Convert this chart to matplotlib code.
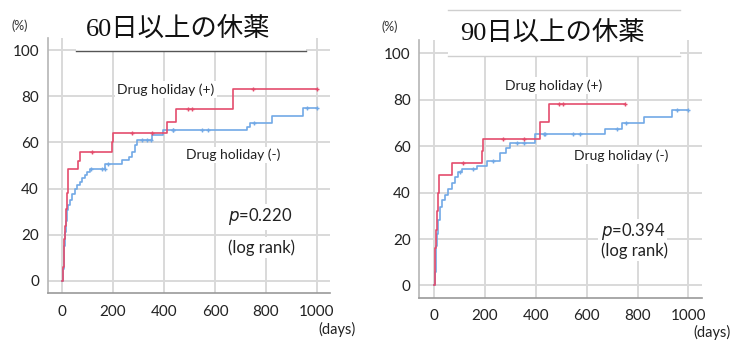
import numpy as np
import matplotlib
matplotlib.use("Agg")
import matplotlib.pyplot as plt
from matplotlib.patches import Rectangle
from matplotlib.lines import Line2D

# ---------------- data ----------------
xticks = [0, 200, 400, 600, 800, 1000]
yticks = [0, 20, 40, 60, 80, 100]

titles = ["60日以上の休薬", "90日以上の休薬"]
pvals = ["0.220", "0.394"]

# Panel 1 (60 days) - Drug holiday (+)
p1_pos_t = [0, 3, 6, 9, 12, 15, 18, 22, 64, 72, 197, 200, 410, 447, 672, 1000]
p1_pos_v = [0, 6, 12, 18, 24, 31, 38, 48.3, 52, 55.8, 60, 63.9, 69, 74.3, 83, 83]
p1_pos_c = [116, 276, 354, 495, 511, 750, 1000]
# Panel 1 - Drug holiday (-)
p1_neg_t = [0, 3, 6, 9, 12, 15, 18, 24, 31, 40, 51, 60, 70, 80, 90, 97, 110, 170,
            234, 261, 273, 286, 294, 352, 397, 724, 737, 822, 946, 1000]
p1_neg_v = [0, 5, 10, 15, 21, 26, 30.7, 33, 35, 37.5, 40, 41.5, 43, 44.5, 46, 47.3,
            48.7, 50.6, 52.4, 53.8, 56, 58.9, 61, 63.2, 65.4, 66.5, 68.5, 71.4, 74.8, 74.8]
p1_neg_c = [112, 158, 169, 179, 312, 332, 349, 434, 437, 548, 574, 753, 960, 1000]

# Panel 2 (90 days) - Drug holiday (+)
p2_pos_t = [0, 3, 6, 9, 12, 15, 20, 72, 191, 195, 417, 453, 751]
p2_pos_v = [0, 8, 16, 24, 32, 40, 47.6, 52.7, 57.7, 63.2, 70.6, 78, 78]
p2_pos_c = [115, 273, 354, 493, 506, 751]
# Panel 2 - Drug holiday (-)
p2_neg_t = [0, 4, 8, 10, 14, 18, 24, 34, 44, 57, 70, 83, 96, 109, 170, 207, 259,
            283, 299, 397, 673, 738, 826, 934, 1000]
p2_neg_v = [0, 6, 12, 16.8, 22, 28, 34, 37, 39, 41.5, 44, 46.5, 49, 50, 51.5, 53.4,
            57, 59.1, 61.3, 65.2, 67.3, 70.1, 72.7, 75.6, 75.6]
p2_neg_c = [104, 155, 233, 325, 354, 432, 436, 548, 574, 719, 755, 953, 1000]

RED = "#e44d6d"
BLUE = "#72a9e6"
GRID = "#d9d9d9"
SPINE = "#9a9a9a"

W, H = 730, 341
fig = plt.figure(figsize=(W / 100, H / 100), dpi=100)

TICKFONT = ["Lato", "DejaVu Sans"]
TITLEFONT = ["Liberation Serif", "Noto Sans CJK JP"]


def px(x, y):
    return x / W, 1 - y / H


def step_val(t, v, c):
    idx = np.searchsorted(np.asarray(t), np.asarray(c), side="right") - 1
    return np.asarray(v)[idx]


def panel(rect, xlim, ylim, pos_t, pos_v, pos_c, neg_t, neg_v, neg_c, ypad, xpad):
    ax = fig.add_axes(rect)
    ax.set_xlim(*xlim)
    ax.set_ylim(*ylim)
    ax.set_xticks(xticks)
    ax.set_yticks(yticks)
    ax.grid(True, color=GRID, lw=1.4)
    ax.set_axisbelow(True)
    for s in ["top", "right"]:
        ax.spines[s].set_visible(False)
    ax.spines["left"].set_color("#b5b5b5")
    ax.spines["bottom"].set_color(SPINE)
    for s in ["left", "bottom"]:
        ax.spines[s].set_linewidth(1.2)
    ax.tick_params(axis="both", length=0, labelsize=11, colors="#222222")
    ax.tick_params(axis="y", pad=ypad)
    ax.tick_params(axis="x", pad=xpad)
    for lab in ax.get_xticklabels() + ax.get_yticklabels():
        lab.set_family(TICKFONT)
    ax.step(neg_t, neg_v, where="post", color=BLUE, lw=1.2, zorder=3)
    ax.plot(neg_c, step_val(neg_t, neg_v, neg_c), ls="none", marker="+",
            ms=3.5, mew=1.0, color=BLUE, zorder=3)
    ax.step(pos_t, pos_v, where="post", color=RED, lw=1.2, zorder=4)
    ax.plot(pos_c, step_val(pos_t, pos_v, pos_c), ls="none", marker="+",
            ms=3.5, mew=1.0, color=RED, zorder=4)
    return ax


ax1 = panel([48 / W, 1 - 293 / H, (330 - 48) / W, (293 - 38) / H],
            (-55, 1051), (-5.2, 105.2),
            p1_pos_t, p1_pos_v, p1_pos_c, p1_neg_t, p1_neg_v, p1_neg_c, 6.5, 8.5)
ax2 = panel([419 / W, 1 - 298 / H, (702 - 419) / W, (298 - 40) / H],
            (-58, 1053), (-5.4, 105.7),
            p2_pos_t, p2_pos_v, p2_pos_c, p2_neg_t, p2_neg_v, p2_neg_c, 6, 8)

box = dict(boxstyle="square,pad=0.15", fc="white", ec="none")
lblfont = ["Lato", "DejaVu Sans"]

# Panel 1 annotations
ax1.text(408, 83, "Drug holiday (+)", ha="center", va="center", fontsize=10,
         family=lblfont, bbox=box, zorder=5, color="#222222")
ax1.text(672, 54.5, "Drug holiday (-)", ha="center", va="center", fontsize=10,
         family=lblfont, bbox=box, zorder=5, color="#222222")
ax1.text(650, 27.8, f"$p$=" + pvals[0], ha="left", va="center", fontsize=12,
         family=lblfont, bbox=box, zorder=5, color="#222222")
ax1.text(650, 14.5, "(log rank)", ha="left", va="center", fontsize=12,
         family=lblfont, bbox=box, zorder=5, color="#222222")

# Panel 2 annotations
ax2.text(469, 86, "Drug holiday (+)", ha="center", va="center", fontsize=10,
         family=lblfont, bbox=box, zorder=5, color="#222222")
ax2.text(735, 56, "Drug holiday (-)", ha="center", va="center", fontsize=10,
         family=lblfont, bbox=box, zorder=5, color="#222222")
ax2.text(655, 23.2, f"$p$=" + pvals[1], ha="left", va="center", fontsize=12,
         family=lblfont, bbox=box, zorder=5, color="#222222")
ax2.text(655, 15.0, "(log rank)", ha="left", va="center", fontsize=12,
         family=lblfont, bbox=box, zorder=5, color="#222222")

# title boxes
x0, y0 = px(76, 51)
fig.add_artist(Rectangle((x0, y0), (306 - 76) / W, 40 / H, transform=fig.transFigure,
                         fc="white", ec="none", zorder=6))
fig.add_artist(Line2D([76 / W, 306 / W], [y0, y0], transform=fig.transFigure,
                      color="#555555", lw=1.0, zorder=7))
x0, y0 = px(448, 56)
fig.add_artist(Rectangle((x0, y0), (680 - 448) / W, 46 / H, transform=fig.transFigure,
                         fc="white", ec="none", zorder=6))
for yy in (56, 10):
    fig.add_artist(Line2D([448 / W, 680 / W], [1 - yy / H, 1 - yy / H],
                          transform=fig.transFigure, color="#cfcfcf", lw=1.0, zorder=7))

fig.text(*px(178, 29), titles[0], ha="center", va="center", fontsize=19,
         family=TITLEFONT, zorder=8, color="#111111")
fig.text(*px(552, 33), titles[1], ha="center", va="center", fontsize=19,
         family=TITLEFONT, zorder=8, color="#111111")

# unit labels
fig.text(*px(20, 26), "(%)", ha="center", va="center", fontsize=9, family=lblfont,
         color="#333333")
fig.text(*px(390, 27), "(%)", ha="center", va="center", fontsize=9, family=lblfont,
         color="#333333")
fig.text(*px(337, 329), "(days)", ha="center", va="center", fontsize=10.5,
         family=lblfont, color="#222222")
fig.text(*px(712, 332), "(days)", ha="center", va="center", fontsize=10.5,
         family=lblfont, color="#222222")

fig.savefig("out.png", dpi=100)
